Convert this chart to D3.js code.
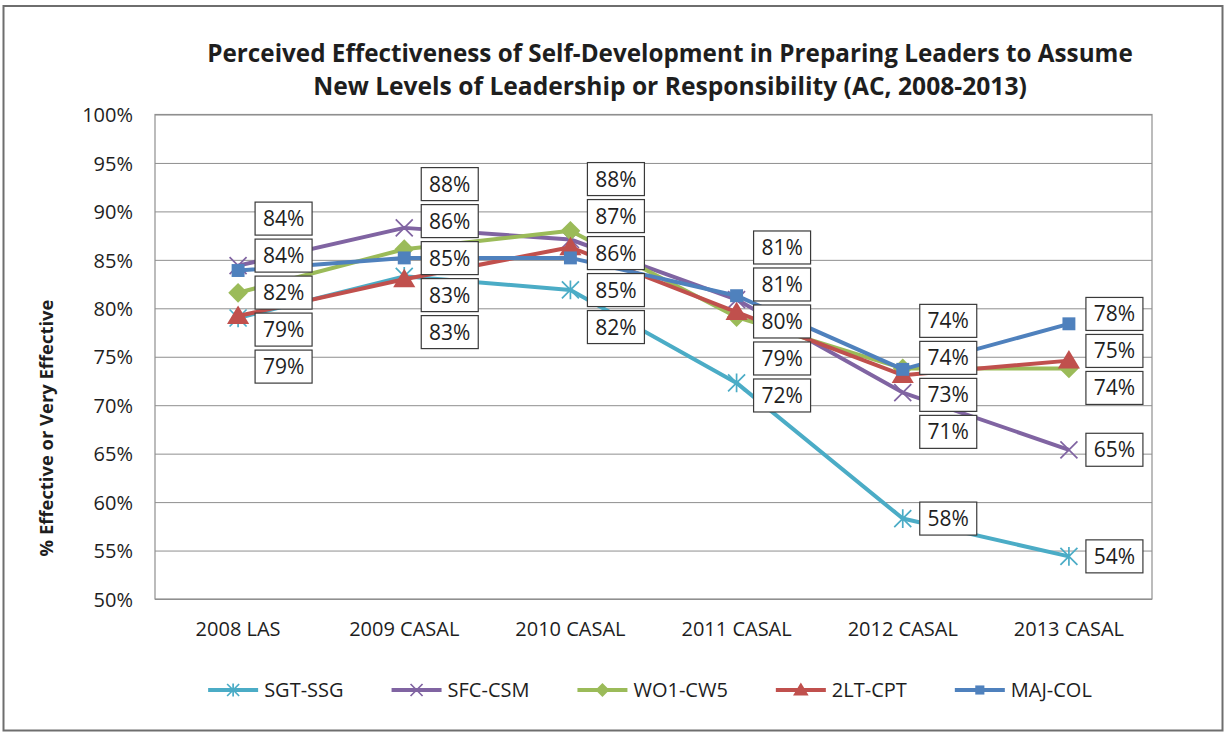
<!DOCTYPE html>
<html><head><meta charset="utf-8">
<script src="https://cdn.jsdelivr.net/npm/d3@7"></script>
<style>body{margin:0;background:#fff} svg{display:block}</style>
</head><body>
<svg id="chart" width="1225" height="732"></svg>
<script>
// ---------- data ----------
const categories = ["2008 LAS","2009 CASAL","2010 CASAL","2011 CASAL","2012 CASAL","2013 CASAL"];
const seriesNames = ["SGT-SSG","SFC-CSM","WO1-CW5","2LT-CPT","MAJ-COL"];
const sgtSsg = [79.0, 83.3, 81.9, 72.3, 58.3, 54.4];
const sfcCsm = [84.4, 88.3, 87.1, 80.9, 71.3, 65.4];
const wo1Cw5 = [81.6, 86.1, 88.0, 79.1, 73.8, 73.8];
const ltCpt  = [79.2, 83.0, 86.3, 79.6, 73.1, 74.6];
const majCol = [83.9, 85.2, 85.2, 81.3, 73.7, 78.4];
const yTicks = [50, 55, 60, 65, 70, 75, 80, 85, 90, 95, 100];
const titleLines = ["Perceived Effectiveness of Self-Development in Preparing Leaders to Assume",
                    "New Levels of Leadership or Responsibility (AC, 2008-2013)"];
const yAxisTitle = "% Effective or Very Effective";

const seriesValues = [sgtSsg, sfcCsm, wo1Cw5, ltCpt, majCol];
const colors = ["#4BACC6", "#8064A2", "#9BBB59", "#C0504D", "#4F81BD"];
const markers = ["star", "times", "diamond", "triangle", "square"];

// ---------- layout ----------
const W = 1225, H = 732;
const plot = {left: 155, right: 1152, top: 114.5, bottom: 599};
const FONT = "'Open Sans', 'Noto Sans', sans-serif";
const textColor = "#1e1e1e";

const svg = d3.select("#chart");
svg.append("rect").attr("width", W).attr("height", H).attr("fill", "#fff");
// outer frame
svg.append("rect").attr("x", 3.5).attr("y", 6).attr("width", 1219).attr("height", 724.5)
  .attr("fill", "none").attr("stroke", "#6e6e6e").attr("stroke-width", 2);

const x = d3.scaleBand().domain(categories).range([plot.left, plot.right]);
const xc = c => x(c) + x.bandwidth() / 2;
const y = d3.scaleLinear().domain([50, 100]).range([plot.bottom, plot.top]);

// gridlines
const gy = svg.append("g").attr("transform", `translate(${plot.left},0)`)
  .call(d3.axisLeft(y).tickValues(yTicks).tickSize(-(plot.right - plot.left)).tickFormat(""));
gy.select(".domain").remove();
gy.selectAll(".tick line").attr("stroke", "#8f8f8f").attr("stroke-width", 1);

// plot frame
svg.append("rect").attr("x", plot.left).attr("y", plot.top)
  .attr("width", plot.right - plot.left).attr("height", plot.bottom - plot.top)
  .attr("fill", "none").attr("stroke", "#8f8f8f").attr("stroke-width", 1.2);

// y tick labels
const yl = svg.append("g").attr("transform", `translate(133,0)`)
  .call(d3.axisLeft(y).tickValues(yTicks).tickSize(0).tickPadding(0).tickFormat(d => d + "%"));
yl.select(".domain").remove();
yl.selectAll("text").attr("font-family", FONT).attr("font-size", 20).attr("fill", textColor)
  .attr("dy", "0.36em");

// x tick labels
const xl = svg.append("g").attr("transform", `translate(0,${plot.bottom})`)
  .call(d3.axisBottom(x).tickSize(0).tickPadding(0));
xl.select(".domain").remove();
xl.selectAll("text").attr("font-family", FONT).attr("font-size", 20).attr("fill", textColor)
  .attr("y", 37).attr("dy", 0);

// helper to fit text to width
function fitWidth(sel, target) {
  sel.each(function() {
    const w = this.getComputedTextLength();
    const fs = parseFloat(d3.select(this).attr("font-size"));
    d3.select(this).attr("font-size", fs * target / w);
  });
}

// title
const titleWidths = [926, 714];
const titleY = [62, 95];
titleLines.forEach((t, i) => {
  const el = svg.append("text").attr("x", 670).attr("y", titleY[i]).attr("text-anchor", "middle")
    .attr("font-family", FONT).attr("font-weight", "bold").attr("font-size", 22)
    .attr("fill", textColor).text(t);
  fitWidth(el, titleWidths[i]);
});

// y axis title
const yt = svg.append("text").attr("transform", "translate(53,428) rotate(-90)")
  .attr("text-anchor", "middle").attr("font-family", FONT).attr("font-weight", "bold")
  .attr("font-size", 18).attr("fill", textColor).text(yAxisTitle);
fitWidth(yt, 257);

// marker drawing
function drawMarker(g, type, color, size) {
  const s = size;
  if (type === "square") {
    g.append("rect").attr("x", -s * 0.38).attr("y", -s * 0.38).attr("width", s * 0.76).attr("height", s * 0.76)
      .attr("fill", color);
  } else if (type === "diamond") {
    const r = s * 0.58;
    g.append("path").attr("d", `M0,${-r}L${r},0L0,${r}L${-r},0Z`).attr("fill", color);
  } else if (type === "triangle") {
    const r = s * 0.62;
    g.append("path").attr("d", `M0,${-r}L${r * 1.05},${r * 0.75}L${-r * 1.05},${r * 0.75}Z`).attr("fill", color);
  } else if (type === "times") {
    const r = s * 0.5;
    g.append("path").attr("d", `M${-r},${-r}L${r},${r}M${-r},${r}L${r},${-r}`)
      .attr("stroke", color).attr("stroke-width", 1.7).attr("fill", "none");
  } else if (type === "star") {
    const r = s * 0.5;
    g.append("path").attr("d", `M${-r},${-r}L${r},${r}M${-r},${r}L${r},${-r}M0,${-r * 1.1}L0,${r * 1.1}`)
      .attr("stroke", color).attr("stroke-width", 1.7).attr("fill", "none");
  }
}

// series lines and markers
const line = d3.line().x((d, i) => xc(categories[i])).y(d => y(d));
seriesValues.forEach((vals, si) => {
  const g = svg.append("g");
  g.append("path").datum(vals).attr("d", line).attr("fill", "none")
    .attr("stroke", colors[si]).attr("stroke-width", 4).attr("stroke-linejoin", "round");
  vals.forEach((v, i) => {
    const mg = g.append("g").attr("transform", `translate(${xc(categories[i])},${y(v)})`);
    drawMarker(mg, markers[si], colors[si], 17);
  });
});

// data labels with overlap avoidance per category
const GAP = 37, BOXW = 57, BOXH = 33, BOXDX = 17;
function layoutLabels(items) {
  items.sort((a, b) => a.y - b.y);
  let clusters = items.map(d => ({items: [d], mean: d.y}));
  let merged = true;
  while (merged) {
    merged = false;
    for (let i = 0; i < clusters.length - 1; i++) {
      const a = clusters[i], b = clusters[i + 1];
      const aBottom = a.mean + (a.items.length - 1) * GAP / 2;
      const bTop = b.mean - (b.items.length - 1) * GAP / 2;
      if (bTop - aBottom < GAP) {
        const all = a.items.concat(b.items);
        clusters.splice(i, 2, {items: all, mean: d3.mean(all, d => d.y)});
        merged = true; break;
      }
    }
  }
  clusters.forEach(c => c.items.forEach((d, i) => d.ly = c.mean + (i - (c.items.length - 1) / 2) * GAP));
  return items;
}
const labelG = svg.append("g");
categories.forEach((c, ci) => {
  const items = seriesValues.map((vals, si) => ({v: vals[ci], y: y(vals[ci]), si}));
  layoutLabels(items).forEach(d => {
    const bx = xc(c) + BOXDX;
    labelG.append("rect").attr("x", bx).attr("y", d.ly - BOXH / 2).attr("width", BOXW).attr("height", BOXH)
      .attr("fill", "#fff").attr("stroke", "#3a3a3a").attr("stroke-width", 1.2);
    labelG.append("text").attr("x", bx + BOXW / 2).attr("y", d.ly).attr("dy", "0.36em")
      .attr("text-anchor", "middle").attr("font-family", FONT).attr("font-size", 21)
      .attr("fill", "#1e1e1e").text(Math.round(d.v) + "%");
  });
});

// legend
const legG = svg.append("g");
const LINELEN = 50, TXTGAP = 6, ITEMGAP = 48, LEGY = 690;
let widths = [];
const tmp = legG.append("g");
seriesNames.forEach(n => {
  const t = tmp.append("text").attr("font-family", FONT).attr("font-size", 20).text(n);
  widths.push(t.node().getComputedTextLength());
});
tmp.remove();
const total = d3.sum(widths) + seriesNames.length * (LINELEN + TXTGAP) + (seriesNames.length - 1) * ITEMGAP;
let lx = 650 - total / 2;
seriesNames.forEach((n, si) => {
  legG.append("line").attr("x1", lx).attr("x2", lx + LINELEN).attr("y1", LEGY).attr("y2", LEGY)
    .attr("stroke", colors[si]).attr("stroke-width", 4);
  const mg = legG.append("g").attr("transform", `translate(${lx + LINELEN / 2},${LEGY})`);
  drawMarker(mg, markers[si], colors[si], 12);
  legG.append("text").attr("x", lx + LINELEN + TXTGAP).attr("y", LEGY).attr("dy", "0.36em")
    .attr("font-family", FONT).attr("font-size", 20).attr("fill", textColor).text(n);
  lx += LINELEN + TXTGAP + widths[si] + ITEMGAP;
});
</script>
</body></html>
